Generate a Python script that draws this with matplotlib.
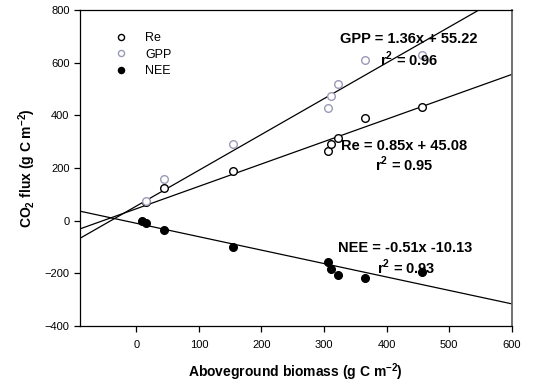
import numpy as np
import matplotlib
matplotlib.use("Agg")
import matplotlib.pyplot as plt

plt.rcParams['font.family'] = ['Liberation Sans', 'DejaVu Sans']
plt.rcParams['mathtext.fontset'] = 'custom'
plt.rcParams['mathtext.rm'] = 'Liberation Sans'
plt.rcParams['mathtext.bf'] = 'Liberation Sans:bold'

# aboveground biomass (g C m-2) and fluxes
biomass = [15, 44, 155, 307, 311, 323, 365, 457]
re = [72, 123, 189, 265, 290, 313, 390, 433]
gpp = [75, 158, 290, 427, 472, 518, 610, 629]
nee_biomass = [9, 15, 44, 155, 307, 311, 323, 365, 457]
nee = [0, -8, -35, -101, -158, -185, -206, -219, -196]

# regression fits
fits = {
    'GPP': (1.36, 55.22, 0.96),
    'Re': (0.85, 45.08, 0.95),
    'NEE': (-0.51, -10.13, 0.93),
}

gpp_col = '#9a9ab8'

fig = plt.figure(figsize=(5.37, 3.83), dpi=100)
ax = fig.add_axes([0.149, 0.149, 0.804, 0.825])

xl = np.array([-90, 600])
for k in ['GPP', 'Re', 'NEE']:
    a, b, r2 = fits[k]
    ax.plot(xl, a * xl + b, color='black', lw=0.9, zorder=1)

ax.plot(biomass, re, 'o', mfc='white', mec='black', mew=1.0, ms=5.5, label='Re', zorder=3)
ax.plot(biomass, gpp, 'o', mfc='white', mec=gpp_col, mew=1.0, ms=5.5, label='GPP', zorder=3)
ax.plot(nee_biomass, nee, 'o', color='black', ms=5.5, label='NEE', zorder=3)

fs = 10.5
ax.text(435, 690, 'GPP = 1.36x + 55.22', ha='center', va='center', fontsize=fs, fontweight='bold')
ax.text(436, 614, r'r$^\mathbf{2}$ = 0.96', ha='center', va='center', fontsize=fs, fontweight='bold')
ax.text(428, 285, 'Re = 0.85x + 45.08', ha='center', va='center', fontsize=fs, fontweight='bold')
ax.text(429, 214, r'r$^\mathbf{2}$ = 0.95', ha='center', va='center', fontsize=fs, fontweight='bold')
ax.text(429, -105, 'NEE = -0.51x -10.13', ha='center', va='center', fontsize=fs, fontweight='bold')
ax.text(431, -177, r'r$^\mathbf{2}$ = 0.93', ha='center', va='center', fontsize=fs, fontweight='bold')

ax.set_xlim(-90, 600)
ax.set_ylim(-400, 800)
ax.set_xticks([0, 100, 200, 300, 400, 500, 600])
ax.set_yticks([-400, -200, 0, 200, 400, 600, 800])
ax.tick_params(labelsize=8, length=4, width=0.9, direction='out', top=False, right=False)
ax.tick_params(axis='x', pad=6)

for s in ax.spines.values():
    s.set_linewidth(0.9)
ax.spines['right'].set_color('#666666')
ax.spines['right'].set_linewidth(1.3)

ax.set_xlabel(r'Aboveground biomass (g C m$^\mathbf{-2}$)', fontsize=10, fontweight='bold', labelpad=8)
ax.set_ylabel(r'CO$_\mathbf{2}$ flux (g C m$^\mathbf{-2}$)', fontsize=10, fontweight='bold', labelpad=5)

leg = ax.legend(loc='upper left', bbox_to_anchor=(0.055, 0.965), frameon=False,
                fontsize=9, markerscale=0.8, handletextpad=1.4, labelspacing=0.35,
                handlelength=1.0)

fig.savefig('out.png', dpi=100)
